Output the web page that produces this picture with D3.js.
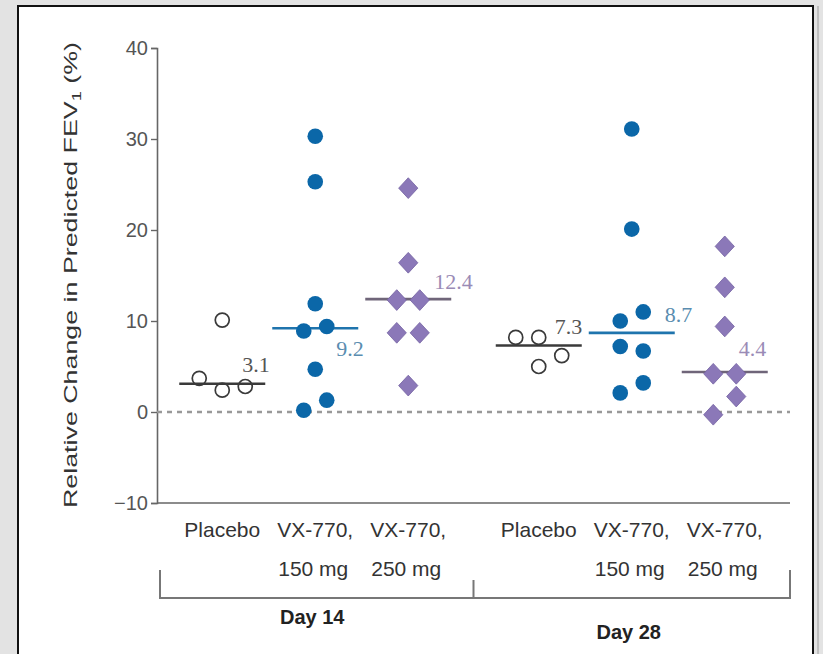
<!DOCTYPE html>
<html>
<head>
<meta charset="utf-8">
<script src="https://cdn.jsdelivr.net/npm/d3@7"></script>
<style>
  html, body { margin: 0; padding: 0; background: #e3e3e3; }
  svg { display: block; }
</style>
</head>
<body>
<svg id="chart" width="823" height="654"></svg>
<script>
// ---- data ----
const days = ["Day 14", "Day 28"];
const treatments = ["Placebo", "VX-770 150 mg", "VX-770 250 mg"];
const treatmentLines = [["Placebo"], ["VX-770,", "150 mg"], ["VX-770,", "250 mg"]];

// individual relative changes in predicted FEV1 (%)
const day14Placebo = [10.1, 3.7, 2.4, 2.8];
const day14Vx150 = [30.3, 25.3, 11.9, 8.9, 9.4, 4.7, 0.2, 1.3];
const day14Vx250 = [24.6, 16.4, 12.3, 12.3, 8.7, 8.7, 2.9];
const day28Placebo = [8.2, 8.2, 6.2, 5.0];
const day28Vx150 = [31.1, 20.1, 10.0, 11.0, 7.2, 6.7, 2.1, 3.2];
const day28Vx250 = [18.2, 13.7, 9.4, 4.2, 4.2, -0.3, 1.7];

// median per treatment group
const day14Medians = [3.1, 9.2, 12.4];
const day28Medians = [7.3, 8.7, 4.4];

const yTicks = [-10, 0, 10, 20, 30, 40];

// ---- assemble groups ----
const seriesByDay = {
  "Day 14": [day14Placebo, day14Vx150, day14Vx250],
  "Day 28": [day28Placebo, day28Vx150, day28Vx250]
};
const mediansByDay = { "Day 14": day14Medians, "Day 28": day28Medians };

const groups = [];
days.forEach(day => {
  treatments.forEach((t, i) => {
    groups.push({ day, treatment: t, index: i, values: seriesByDay[day][i], median: mediansByDay[day][i] });
  });
});

// ---- layout ----
const svg = d3.select("#chart");
const plot = { left: 157, right: 790, top: 48, bottom: 503 };

const y = d3.scaleLinear().domain([-10, 40]).range([plot.bottom, plot.top]);
const xDay = d3.scaleBand().domain(days).range([plot.left, plot.right]).padding(0);
const xTreat = d3.scalePoint().domain(treatments).range([-93, 93]);
const cx = g => xDay(g.day) + xDay.bandwidth() / 2 + xTreat(g.treatment);

const style = {
  "Placebo":       { line: "#3a3a3a", label: "#555555", mark: "#3a3a3a" },
  "VX-770 150 mg": { line: "#1f74ad", label: "#5a8db0", mark: "#0b67a8" },
  "VX-770 250 mg": { line: "#6f6579", label: "#9a8bb6", mark: "#8b78b8" }
};

// frame
svg.append("rect").attr("x", 18).attr("y", 6).attr("width", 795).attr("height", 660)
  .attr("fill", "#ffffff").attr("stroke", "#111").attr("stroke-width", 2);
svg.append("line").attr("x1", 818).attr("x2", 818).attr("y1", 6).attr("y2", 654)
  .attr("stroke", "#9a9a9a").attr("stroke-width", 1);

// y axis
const yAxis = d3.axisLeft(y).tickValues(yTicks).tickSize(6).tickPadding(3).tickFormat(d3.format("d"));
const gy = svg.append("g").attr("transform", `translate(${plot.left},0)`).call(yAxis);
gy.select(".domain").attr("stroke", "#666").attr("stroke-width", 1.6);
gy.selectAll(".tick line").attr("stroke", "#666").attr("stroke-width", 1.4);
gy.selectAll(".tick text").attr("fill", "#555").attr("font-size", 20)
  .attr("font-family", "Liberation Sans, Arial, sans-serif")
  .text(d => d < 0 ? "\u2212" + Math.abs(d) : d);

// x baseline
svg.append("line").attr("x1", plot.left).attr("x2", plot.right)
  .attr("y1", y(-10)).attr("y2", y(-10)).attr("stroke", "#666").attr("stroke-width", 1.6);

// zero reference line
svg.append("line").attr("x1", plot.left).attr("x2", plot.right)
  .attr("y1", y(0)).attr("y2", y(0))
  .attr("stroke", "#999").attr("stroke-width", 2.6).attr("stroke-dasharray", "5,5");

// y title
const title = svg.append("text")
  .attr("transform", `translate(77,${(42 + 508) / 2}) rotate(-90)`)
  .attr("text-anchor", "middle")
  .attr("font-family", "Liberation Sans, Arial, sans-serif")
  .attr("font-size", 19).attr("fill", "#333")
  .attr("textLength", 466).attr("lengthAdjust", "spacingAndGlyphs");
title.append("tspan").text("Relative Change in Predicted FEV");
title.append("tspan").attr("font-size", 13).attr("dy", 4).text("1");
title.append("tspan").attr("dy", -4).text(" (%)");

// swarm offsets: points closer than `near` px stack side by side, kept in listed order
function swarm(values) {
  const near = 19, step = 23;
  const order = d3.range(values.length).sort((a, b) => d3.descending(values[a], values[b]) || a - b);
  const offs = new Array(values.length).fill(0);
  let cluster = [];
  const flush = () => {
    const sorted = cluster.slice().sort((a, b) => a - b);
    sorted.forEach((idx, k) => { offs[idx] = (k - (sorted.length - 1) / 2) * step; });
    cluster = [];
  };
  order.forEach(idx => {
    if (cluster.length && Math.abs(y(values[idx]) - y(values[cluster[0]])) > near) flush();
    cluster.push(idx);
  });
  if (cluster.length) flush();
  return offs;
}

// label offsets relative to the right end of each median bar
const labelPos = {
  "Day 14": [[-23, -12], [-22, 28], [-17, -10]],
  "Day 28": [[-27, -12], [-10, -11], [-29, -16]]
};
const halfBar = 43;

groups.forEach(g => {
  const x0 = cx(g);
  const st = style[g.treatment];
  const layer = svg.append("g");

  // median bar
  layer.append("line")
    .attr("x1", x0 - halfBar).attr("x2", x0 + halfBar)
    .attr("y1", y(g.median)).attr("y2", y(g.median))
    .attr("stroke", st.line).attr("stroke-width", 2.6);

  const offs = swarm(g.values);
  const pts = g.values.map((v, i) => ({ v, x: x0 + offs[i] }));

  if (g.index === 0) {
    layer.selectAll("circle").data(pts).join("circle")
      .attr("cx", d => d.x).attr("cy", d => y(d.v)).attr("r", 7)
      .attr("fill", "none").attr("stroke", st.mark).attr("stroke-width", 1.7);
  } else if (g.index === 1) {
    layer.selectAll("circle").data(pts).join("circle")
      .attr("cx", d => d.x).attr("cy", d => y(d.v)).attr("r", 7.8)
      .attr("fill", st.mark);
  } else {
    const diamond = d3.symbol().type(d3.symbolDiamond2).size(235);
    layer.selectAll("path").data(pts).join("path")
      .attr("d", diamond)
      .attr("transform", d => `translate(${d.x},${y(d.v)}) scale(1,1.08)`)
      .attr("fill", st.mark).attr("stroke", "#7563a3").attr("stroke-width", 0.8);
  }

  const lp = labelPos[g.day][g.index];
  layer.append("text")
    .attr("x", x0 + halfBar + lp[0]).attr("y", y(g.median) + lp[1])
    .attr("font-family", "Liberation Serif, Times New Roman, serif")
    .attr("font-size", 22).attr("fill", st.label)
    .text(d3.format(".1f")(g.median));
});

// category labels
groups.forEach(g => {
  const lines = treatmentLines[g.index];
  const t = svg.append("text")
    .attr("text-anchor", "middle")
    .attr("font-family", "Liberation Sans, Arial, sans-serif")
    .attr("font-size", 21).attr("fill", "#333");
  lines.forEach((ln, k) => {
    t.append("tspan").attr("x", cx(g) + (k === 1 ? -2 : 0)).attr("y", 537 + k * 39).text(ln);
  });
});

// day brackets
const br = svg.append("g").attr("stroke", "#777").attr("stroke-width", 2).attr("fill", "none");
const brTop = 570, brBottom = 598;
br.append("path").attr("d",
  `M${plot.left + 3},${brTop}V${brBottom}H${plot.right}V${brTop}`);
br.append("line").attr("x1", xDay("Day 28")).attr("x2", xDay("Day 28"))
  .attr("y1", brTop + 10).attr("y2", brBottom);

const dayY = { "Day 14": 624, "Day 28": 639 };
days.forEach(day => {
  svg.append("text")
    .attr("x", xDay(day) + xDay.bandwidth() / 2 - 3).attr("y", dayY[day])
    .attr("text-anchor", "middle")
    .attr("font-family", "Liberation Sans, Arial, sans-serif")
    .attr("font-weight", "bold").attr("font-size", 20).attr("fill", "#222")
    .text(day);
});
</script>
</body>
</html>
